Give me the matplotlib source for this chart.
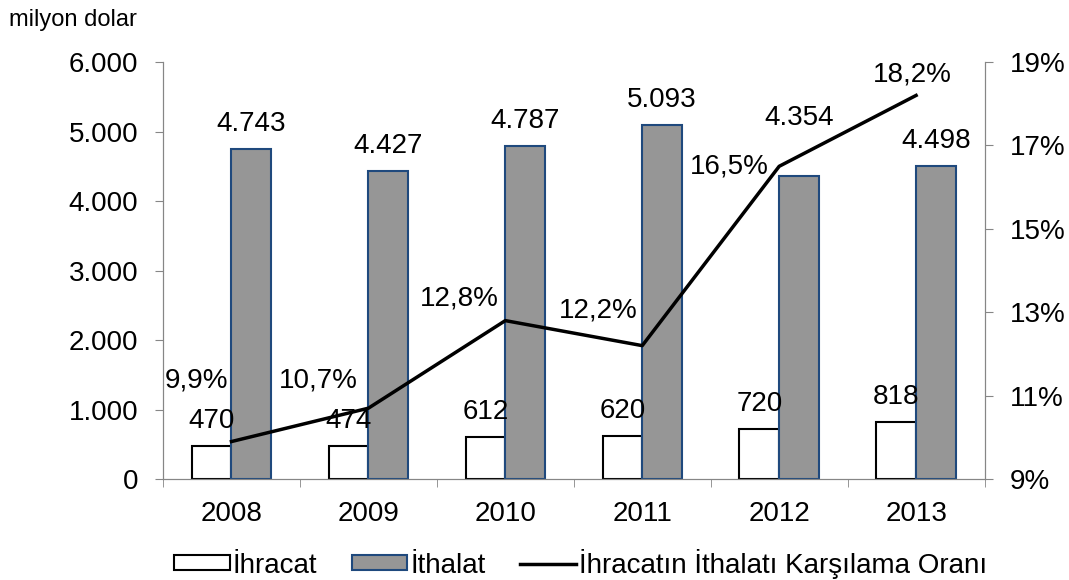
import matplotlib.pyplot as plt

plt.rcParams['font.family'] = ['Liberation Sans', 'DejaVu Sans']

years = ['2008', '2009', '2010', '2011', '2012', '2013']
ihracat = [470, 474, 612, 620, 720, 818]
ithalat = [4743, 4427, 4787, 5093, 4354, 4498]
oran = [9.9, 10.7, 12.8, 12.2, 16.5, 18.2]

ihracat_lbl = ['470', '474', '612', '620', '720', '818']
ithalat_lbl = ['4.743', '4.427', '4.787', '5.093', '4.354', '4.498']
oran_lbl = ['9,9%', '10,7%', '12,8%', '12,2%', '16,5%', '18,2%']
# label offsets (points)
oran_off = [(-25, 44), (-36, 20), (-33, 16), (-32, 25), (-36, 0), (-3, 15)]
ithalat_up = [18, 18, 18, 18, 42, 18]

spine_col = '#868686'
fs = 20

fig = plt.figure(figsize=(10.69, 5.8), dpi=100)
ax = fig.add_axes([0.1525, 0.174, 0.7685, 0.719])
ax2 = ax.twinx()

x = list(range(len(years)))
w = 0.29
b1 = ax.bar([i - w / 2 for i in x], ihracat, w, color='white', edgecolor='black', linewidth=1.5, zorder=2)
b2 = ax.bar([i + w / 2 for i in x], ithalat, w, color='#969696', edgecolor='#1f497d', linewidth=1.5, zorder=2)

for i in x:
    ax.annotate(ihracat_lbl[i], (i - w / 2, ihracat[i]), xytext=(0, 18), textcoords='offset points',
                ha='center', va='center', fontsize=fs)
    ax.annotate(ithalat_lbl[i], (i + w / 2, ithalat[i]), xytext=(0, ithalat_up[i]), textcoords='offset points',
                ha='center', va='center', fontsize=fs)

ln, = ax2.plot(x, oran, color='black', linewidth=2.5, zorder=5)
for i in x:
    ax2.annotate(oran_lbl[i], (x[i], oran[i]), xytext=oran_off[i], textcoords='offset points',
                 ha='center', va='center', fontsize=fs)

ax.set_zorder(1)
ax2.set_zorder(2)
ax2.patch.set_visible(False)

ax.set_xlim(-0.5, 5.5)
ax.set_ylim(0, 6000)
ax.set_yticks([0, 1000, 2000, 3000, 4000, 5000, 6000])
ax.set_yticklabels(['0', '1.000', '2.000', '3.000', '4.000', '5.000', '6.000'], fontsize=fs)
ax.set_xticks(x)
ax.set_xticklabels(years, fontsize=fs)
ax.set_xticks([i - 0.5 for i in range(7)], minor=True)
ax.tick_params(axis='x', which='major', length=0, pad=16)
ax.tick_params(axis='x', which='minor', length=6, color=spine_col)
ax.tick_params(axis='y', length=6, color=spine_col, pad=12)

ax2.set_ylim(9, 19)
ax2.set_yticks([9, 11, 13, 15, 17, 19])
ax2.set_yticklabels(['9%', '11%', '13%', '15%', '17%', '19%'], fontsize=fs)
ax2.tick_params(axis='y', length=6, color=spine_col, pad=12)

for a in (ax, ax2):
    a.spines['top'].set_visible(False)
    for s in ('left', 'right', 'bottom'):
        a.spines[s].set_color(spine_col)

fig.text(0.008, 0.965, 'milyon dolar', fontsize=17, ha='left', va='center')

fig.legend([b1, b2, ln], ['İhracat', 'İthalat', 'İhracatın İthalatı Karşılama Oranı'],
           loc='center', bbox_to_anchor=(0.543, 0.028), ncol=3, frameon=False, fontsize=fs,
           handlelength=2.0, handleheight=0.45, handletextpad=0.1, columnspacing=1.25)

plt.savefig('out.png')
